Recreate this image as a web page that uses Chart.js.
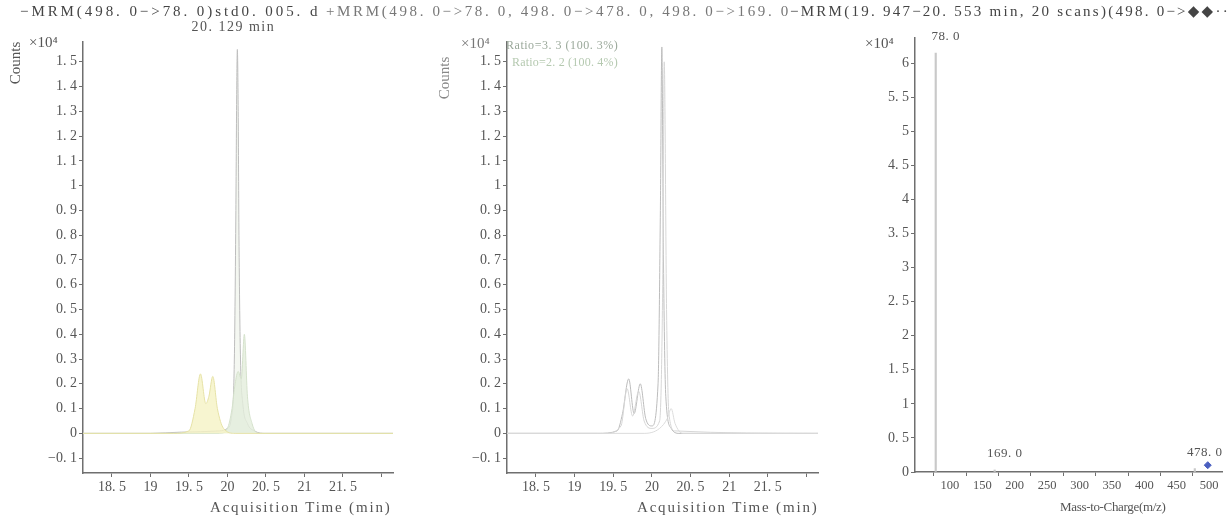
<!DOCTYPE html>
<html>
<head>
<meta charset="utf-8">
<script src="https://cdn.jsdelivr.net/npm/chart.js@4.4.0/dist/chart.umd.min.js"></script>
<style>
html, body { margin: 0; padding: 0; background: #fff; }
#page { position: relative; width: 1231px; height: 516px; overflow: hidden; font-family: "Liberation Serif", "DejaVu Serif", serif; }
canvas { position: absolute; top: 0; }
.txt { position: absolute; white-space: nowrap; font-size: 15px; line-height: 16px; color: #555; }
.rot { transform: rotate(-90deg); transform-origin: center center; }
</style>
</head>
<body>
<div id="page">
    <canvas id="leftChart" width="400" height="516" style="left:0px"></canvas>
    <canvas id="midChart" width="400" height="516" style="left:420px"></canvas>
    <canvas id="specChart" width="401" height="516" style="left:830px"></canvas>

    <div class="txt fit" data-w="298" style="left:20px;top:3px;color:#444">−MRM(498. 0−>78. 0)std0. 005. d</div>
    <div class="txt fit" data-w="462" style="left:326px;top:3px;color:#777">+MRM(498. 0−>78. 0, 498. 0−>478. 0, 498. 0−>169. 0</div>
    <div class="txt fit" data-w="445" style="left:790px;top:3px;color:#444">−MRM(19. 947−20. 553 min, 20 scans)(498. 0−>◆◆···</div>

    <div class="txt" style="left:29px;top:34px">×10⁴</div>
    <div class="txt rot" style="left:-6px;top:55px">Counts</div>
    <div class="txt" style="left:461px;top:35px;color:#777">×10⁴</div>
    <div class="txt rot" style="left:423px;top:70px;color:#888">Counts</div>
    <div class="txt" style="left:865px;top:35px">×10⁴</div>

    <div class="txt fit" data-w="112" style="left:506px;top:37px;font-size:12px;color:#9aa89a">Ratio=3. 3 (100. 3%)</div>
    <div class="txt fit" data-w="106" style="left:512px;top:54px;font-size:12px;color:#b5c9b0">Ratio=2. 2 (100. 4%)</div>

    <div class="txt fit" data-w="180" style="left:210px;top:499px">Acquisition Time (min)</div>
    <div class="txt fit" data-w="180" style="left:637px;top:499px">Acquisition Time (min)</div>
    <div class="txt fit" data-w="106" style="left:1060px;top:499px;font-size:13px">Mass-to-Charge(m/z)</div>
</div>
<script>
// Axes ticks
const countTicks = [-0.1, 0, 0.1, 0.2, 0.3, 0.4, 0.5, 0.6, 0.7, 0.8, 0.9, 1, 1.1, 1.2, 1.3, 1.4, 1.5];
const timeTicks = [18.5, 19, 19.5, 20, 20.5, 21, 21.5, 22];
const timeTickLabels = ['18. 5', '19', '19. 5', '20', '20. 5', '21', '21. 5', ''];
const specYTicks = [0, 0.5, 1, 1.5, 2, 2.5, 3, 3.5, 4, 4.5, 5, 5.5, 6];
const mzTicks = [100, 150, 200, 250, 300, 350, 400, 450, 500];

// Left: std0.005.d, 498.0->78.0 (x10^4 counts)
const quantTime   = [18.12, 19.0, 19.4, 19.9, 20.0, 20.05, 20.09, 20.11, 20.12, 20.129, 20.14, 20.15, 20.17, 20.2, 20.26, 20.35, 20.5, 22.15];
const quantCounts = [0, 0, 0.005, 0.01, 0.02, 0.06, 0.3, 0.9, 1.35, 1.55, 1.3, 0.8, 0.3, 0.12, 0.04, 0.01, 0, 0];
const earlyTime   = [18.12, 19.3, 19.5, 19.58, 19.65, 19.72, 19.76, 19.81, 19.87, 19.95, 20.1, 22.15];
const earlyCounts = [0, 0, 0.01, 0.1, 0.24, 0.12, 0.15, 0.23, 0.1, 0.02, 0, 0];
const shoulderTime   = [18.12, 19.9, 20.0, 20.06, 20.1, 20.14, 20.18, 20.22, 20.26, 20.32, 20.4, 22.15];
const shoulderCounts = [0, 0, 0.02, 0.1, 0.2, 0.25, 0.22, 0.4, 0.15, 0.04, 0, 0];

// Middle: overlaid qualifier traces
const ion78Time    = [18.12, 19.3, 19.55, 19.62, 19.7, 19.77, 19.85, 19.92, 20.0, 20.08, 20.11, 20.129, 20.15, 20.18, 20.25, 20.35, 22.15];
const ion78Counts  = [0, 0, 0.01, 0.08, 0.22, 0.08, 0.2, 0.06, 0.03, 0.2, 0.9, 1.56, 0.7, 0.15, 0.02, 0, 0];
const ion478Time   = [18.12, 19.4, 19.6, 19.68, 19.75, 19.83, 19.9, 20.0, 20.1, 20.14, 20.16, 20.19, 20.22, 20.3, 22.15];
const ion478Counts = [0, 0, 0.03, 0.18, 0.07, 0.17, 0.05, 0.02, 0.05, 0.6, 1.5, 0.5, 0.08, 0.01, 0];
const ion169Time   = [18.12, 19.9, 20.1, 20.2, 20.25, 20.3, 20.4, 22.15];
const ion169Counts = [0, 0, 0.02, 0.06, 0.1, 0.04, 0, 0];

// Right: spectrum 19.947-20.553 min
const mzValues = [78.0, 169.0, 478.0];
const mzCounts = [6.15, 0.03, 0.05];
const precursorMz = [498.0];
const precursorMark = [0.1];

function pts(xs, ys) { return xs.map((x, i) => ({ x: x, y: ys[i] })); }
function fmt(v) { return String(v).replace('.', '. '); }

const inkColor = '#555';
const axisColor = '#6f6f6f';
const tickFont = { family: '"Liberation Serif", "DejaVu Serif", serif', size: 14 };

const peakLabels = {
    id: 'peakLabels',
    afterDatasetsDraw(chart, args, opts) {
        if (!opts.items) return;
        const ctx = chart.ctx;
        ctx.save();
        ctx.font = (opts.size || 13) + 'px "Liberation Serif", "DejaVu Serif", serif';
        if ('letterSpacing' in ctx) ctx.letterSpacing = (opts.spacing || 0) + 'px';
        ctx.fillStyle = opts.color || inkColor;
        ctx.textAlign = 'center';
        ctx.textBaseline = 'bottom';
        opts.items.forEach(it => {
            const px = chart.scales.x.getPixelForValue(it.x) + (opts.dx || 0);
            const py = chart.scales.y.getPixelForValue(it.y) - (opts.lift || 4);
            ctx.fillText(it.text, px, py);
        });
        ctx.restore();
    }
};

function axisStyle(extra) {
    return Object.assign({
        border: { display: true, color: axisColor, width: 1.5 },
        grid: { drawOnChartArea: false, drawTicks: true, tickLength: 4, color: axisColor }
    }, extra);
}

function chromOptions(yWidth, padRight, labels) {
    return {
        responsive: false,
        animation: false,
        layout: { padding: { top: 42, right: padRight, left: 0, bottom: 0 } },
        plugins: { legend: { display: false }, tooltip: { enabled: false }, peakLabels: labels },
        elements: { point: { radius: 0 }, line: { borderWidth: 1, tension: 0.35, cubicInterpolationMode: 'monotone' } },
        scales: {
            x: axisStyle({
                type: 'linear', min: 18.125, max: 22.15,
                afterFit: s => { s.height = 43; },
                afterBuildTicks: s => { s.ticks = timeTicks.map(v => ({ value: v })); },
                ticks: { color: inkColor, font: tickFont, padding: 2, autoSkip: false, maxRotation: 0,
                    callback: v => timeTickLabels[timeTicks.indexOf(v)] }
            }),
            y: axisStyle({
                type: 'linear', min: -0.16, max: 1.58,
                afterFit: s => { s.width = yWidth; },
                afterBuildTicks: s => { s.ticks = countTicks.map(v => ({ value: v })); },
                ticks: { color: inkColor, font: tickFont, padding: 2, autoSkip: false,
                    callback: v => v < 0 ? '−' + fmt(-v) : fmt(v) }
            })
        }
    };
}

new Chart(document.getElementById('leftChart'), {
    type: 'line',
    data: {
        datasets: [
            { data: pts(earlyTime, earlyCounts), borderColor: '#e6e2a6', backgroundColor: 'rgba(245,242,196,0.8)', fill: 'origin' },
            { data: pts(shoulderTime, shoulderCounts), borderColor: '#d5e2cc', backgroundColor: 'rgba(228,238,220,0.8)', fill: 'origin' },
            { data: pts(quantTime, quantCounts), borderColor: '#bdbdbd', backgroundColor: 'rgba(236,242,232,0.6)', fill: 'origin' }
        ]
    },
    options: chromOptions(83, 7, { items: [{ x: 20.129, y: 1.55, text: '20. 129 min' }], lift: 15, size: 14, spacing: 1.5, dx: -4 }),
    plugins: [peakLabels]
});

new Chart(document.getElementById('midChart'), {
    type: 'line',
    data: {
        datasets: [
            { data: pts(ion169Time, ion169Counts), borderColor: '#dcdcdc', fill: false },
            { data: pts(ion478Time, ion478Counts), borderColor: '#d6d6d6', fill: false },
            { data: pts(ion78Time, ion78Counts), borderColor: '#bcbcbc', fill: false }
        ]
    },
    options: chromOptions(87, 2, {}),
    plugins: [peakLabels]
});

new Chart(document.getElementById('specChart'), {
    type: 'bar',
    data: {
        datasets: [
            { type: 'scatter', data: pts(precursorMz, precursorMark), pointStyle: 'rectRot', pointRadius: 3.5,
              backgroundColor: '#4a5fc0', borderColor: '#4a5fc0' },
            { data: pts(mzValues, mzCounts), backgroundColor: '#c9c9c9', barThickness: 1.5 }
        ]
    },
    options: {
        responsive: false,
        animation: false,
        layout: { padding: { top: 38, right: 9, left: 0, bottom: 0 } },
        plugins: {
            legend: { display: false }, tooltip: { enabled: false },
            peakLabels: { items: mzValues.map((m, i) => ({ x: m, y: mzCounts[i], text: fmt(m.toFixed(1)) })), lift: 10, dx: 10, size: 13, spacing: 0.5 }
        },
        scales: {
            x: axisStyle({
                type: 'linear', min: 46, max: 520, offset: false,
                afterFit: s => { s.height = 44; },
                afterBuildTicks: s => { s.ticks = mzTicks.map(v => ({ value: v })); },
                ticks: { color: inkColor, font: { family: tickFont.family, size: 12.5 }, padding: 2, autoSkip: false, maxRotation: 0 }
            }),
            y: axisStyle({
                type: 'linear', min: 0, max: 6.37,
                afterFit: s => { s.width = 85; },
                afterBuildTicks: s => { s.ticks = specYTicks.map(v => ({ value: v })); },
                ticks: { color: inkColor, font: tickFont, padding: 2, autoSkip: false, callback: v => fmt(v) }
            })
        }
    },
    plugins: [peakLabels]
});

// stretch header texts to the widths they take in the original
document.querySelectorAll('.fit').forEach(el => {
    const target = +el.dataset.w;
    const n = el.textContent.length;
    const extra = (target - el.scrollWidth) / Math.max(n - 1, 1);
    el.style.letterSpacing = extra.toFixed(2) + 'px';
});
</script>
</body>
</html>
